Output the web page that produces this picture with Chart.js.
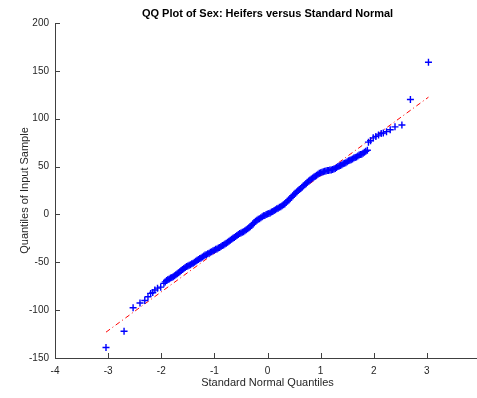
<!DOCTYPE html>
<html>
<head>
<meta charset="utf-8">
<script src="https://cdn.jsdelivr.net/npm/chart.js@4/dist/chart.umd.min.js"></script>
<style>
  html, body { margin: 0; padding: 0; background: #fff; overflow: hidden; }
  #wrap { position: relative; width: 490px; height: 398px; }
</style>
</head>
<body>
<div id="wrap"><canvas id="qqCanvas"></canvas></div>
<script>
// theoretical (standard normal) quantiles
var qx = [
  -3.04, -2.70, -2.53, -2.40, -2.31, -2.25, -2.20, -2.16, -2.12, -2.07, -2.01,
  -1.950, -1.925, -1.900, -1.875, -1.850, -1.825, -1.800, -1.775, -1.750, -1.725,
  -1.700, -1.675, -1.650, -1.625, -1.600, -1.575, -1.550, -1.525, -1.500, -1.475,
  -1.450, -1.425, -1.400, -1.375, -1.350, -1.325, -1.300, -1.275, -1.250, -1.225,
  -1.200, -1.175, -1.150, -1.125, -1.100, -1.075, -1.050, -1.025, -1.000, -0.975,
  -0.950, -0.925, -0.900, -0.875, -0.850, -0.825, -0.800, -0.775, -0.750, -0.725,
  -0.700, -0.675, -0.650, -0.625, -0.600, -0.575, -0.550, -0.525, -0.500, -0.475,
  -0.450, -0.425, -0.400, -0.375, -0.350, -0.325, -0.300, -0.275, -0.250, -0.225,
  -0.200, -0.175, -0.150, -0.125, -0.100, -0.075, -0.050, -0.025, 0.000, 0.025,
  0.050, 0.075, 0.100, 0.125, 0.150, 0.175, 0.200, 0.225, 0.250, 0.275,
  0.300, 0.325, 0.350, 0.375, 0.400, 0.425, 0.450, 0.475, 0.500, 0.525,
  0.550, 0.575, 0.600, 0.625, 0.650, 0.675, 0.700, 0.725, 0.750, 0.775,
  0.800, 0.825, 0.850, 0.875, 0.900, 0.925, 0.950, 0.975, 1.000, 1.025,
  1.050, 1.075, 1.100, 1.125, 1.150, 1.175, 1.200, 1.225, 1.250, 1.275,
  1.300, 1.325, 1.350, 1.375, 1.400, 1.425, 1.450, 1.475, 1.500, 1.525,
  1.550, 1.575, 1.600, 1.625, 1.650, 1.675, 1.700, 1.725, 1.750, 1.775,
  1.800, 1.825, 1.850, 1.880,
  1.90, 1.94, 1.99, 2.04, 2.09, 2.14, 2.18, 2.24, 2.31, 2.40, 2.53, 2.69, 3.03
];
// sample quantiles (Sex: Heifers)
var qy = [
  -139, -122, -97.5, -92.5, -90, -86, -82.5, -81.5, -79, -77, -76,
  -72, -70.5, -69, -68, -67.5, -66.5, -66, -65, -64, -63,
  -62, -61, -60, -58.5, -57.5, -56.5, -55.5, -54.5, -54, -53,
  -52.5, -51.5, -51, -50, -49, -48, -47, -46, -45.5, -44.5,
  -43.5, -42.5, -42, -41, -40.5, -39.5, -39, -38, -37.5, -36.5,
  -36, -35, -34.5, -33.5, -32.5, -32, -31, -30, -29, -28,
  -27, -26, -25, -24, -23, -22, -21, -20, -19.5, -18.5,
  -18, -17, -16, -15, -14, -13, -11.5, -10, -8.5, -7,
  -6, -5, -4.5, -3.5, -2.5, -1.5, -1, 0, 0.5, 1,
  1.5, 2.5, 3, 4, 5, 6, 6.5, 7.5, 8, 9,
  10, 11, 12.5, 14, 15, 16.5, 18, 19.5, 21, 22,
  23.5, 25, 26, 27, 28.5, 30, 31, 32, 33.5, 35,
  36, 37, 38, 39, 40, 41, 42, 43, 43.5, 44,
  44.5, 45, 45.5, 46, 46, 46.5, 46.5, 47, 47.5, 48,
  49, 50, 50.5, 51, 52, 53, 53.5, 54, 55, 56,
  56.5, 57, 58, 59, 59.5, 60, 61, 62, 62.5, 63,
  64, 65, 66, 67,
  75.5, 77, 80, 81.5, 83, 84.5, 85, 86.5, 88.5, 91.5, 93.5, 120, 159
];
// reference line end points
var lineX = [-3.04, 3.03];
var lineY = [-123, 122.5];

var xTicks = [-4, -3, -2, -1, 0, 1, 2, 3, 4];
var yTicks = [-150, -100, -50, 0, 50, 100, 150, 200];

(function() {
  'use strict';

  var axisColor = '#404040';
  var textColor = '#262626';

  var points = qx.map(function(x, i) { return {x: x, y: qy[i]}; });
  var refLine = lineX.map(function(x, i) { return {x: x, y: lineY[i]}; });

  // MATLAB style: ticks point into the plot
  var inwardTicks = {
    id: 'inwardTicks',
    afterDraw: function(chart) {
      var ctx = chart.ctx;
      var xs = chart.scales.x, ys = chart.scales.y;
      var a = chart.chartArea;
      ctx.save();
      ctx.strokeStyle = axisColor;
      ctx.lineWidth = 1;
      ctx.beginPath();
      xTicks.forEach(function(t) {
        var px = Math.round(xs.getPixelForValue(t)) + 0.5;
        ctx.moveTo(px, a.bottom);
        ctx.lineTo(px, a.bottom - 5);
      });
      yTicks.forEach(function(t) {
        var py = Math.round(ys.getPixelForValue(t)) + 0.5;
        ctx.moveTo(a.left, py);
        ctx.lineTo(a.left + 5, py);
      });
      ctx.stroke();
      ctx.restore();
    }
  };

  var ctx = document.getElementById('qqCanvas').getContext('2d');
  var myChart = new Chart(ctx, {
    type: 'scatter',
    data: {
      datasets: [
        {
          data: points,
          pointStyle: 'cross',
          pointRadius: 3.5,
          pointBorderWidth: 1.4,
          borderColor: '#0000ff',
          backgroundColor: '#0000ff',
          showLine: false,
          order: 1
        },
        {
          data: refLine,
          showLine: true,
          borderColor: '#ff0000',
          borderWidth: 1,
          borderDash: [5, 3, 1, 3],
          pointRadius: 0,
          fill: false,
          order: 2
        }
      ]
    },
    options: {
      responsive: true,
      maintainAspectRatio: false,
      animation: false,
      layout: { padding: { top: 0, right: 10, left: 0, bottom: 0 } },
      plugins: {
        legend: { display: false },
        tooltip: { enabled: false },
        title: {
          display: true,
          fullSize: false,
          text: 'QQ Plot of Sex: Heifers versus Standard Normal',
          color: '#000',
          font: { family: 'Liberation Sans, Arial, sans-serif', size: 11, weight: 'bold' },
          padding: { top: 7.5, bottom: 2.3 }
        }
      },
      scales: {
        x: {
          type: 'linear',
          min: -4,
          max: 4,
          afterBuildTicks: function(s) { s.ticks = xTicks.map(function(v) { return {value: v}; }); },
          afterFit: function(s) { s.height = 40; },
          grid: { display: true, drawOnChartArea: false, drawTicks: false, tickLength: 0 },
          border: { display: true, color: axisColor, width: 1 },
          ticks: {
            padding: 7,
            color: textColor,
            maxRotation: 0,
            font: { family: 'Liberation Sans, Arial, sans-serif', size: 10 }
          },
          title: {
            display: true,
            text: 'Standard Normal Quantiles',
            color: textColor,
            font: { family: 'Liberation Sans, Arial, sans-serif', size: 11 },
            padding: { top: 0, bottom: 8 }
          }
        },
        y: {
          type: 'linear',
          min: -150,
          max: 200,
          afterBuildTicks: function(s) { s.ticks = yTicks.map(function(v) { return {value: v}; }); },
          afterFit: function(s) { s.width = 55; },
          grid: { display: true, drawOnChartArea: false, drawTicks: false, tickLength: 0 },
          border: { display: true, color: axisColor, width: 1 },
          ticks: {
            padding: 6,
            color: textColor,
            font: { family: 'Liberation Sans, Arial, sans-serif', size: 10 }
          },
          title: {
            display: true,
            text: 'Quantiles of Input Sample',
            color: textColor,
            font: { family: 'Liberation Sans, Arial, sans-serif', size: 11 },
            padding: { top: 18, bottom: 0 }
          }
        }
      }
    },
    plugins: [inwardTicks]
  });
})();
</script>
</body>
</html>
